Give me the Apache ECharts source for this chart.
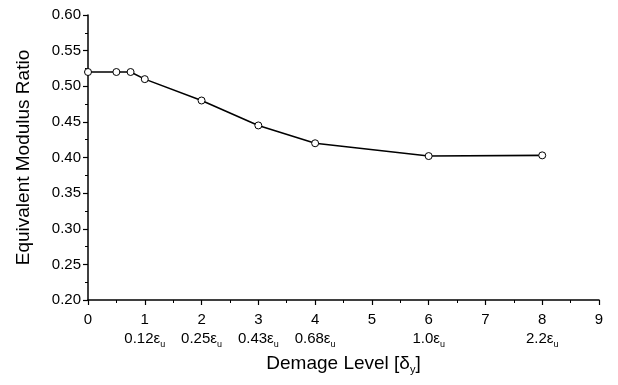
<!DOCTYPE html>
<html><head><meta charset="utf-8">
<script src="https://cdn.jsdelivr.net/npm/echarts@6/dist/echarts.min.js"></script>
<style>html,body{margin:0;padding:0;background:#fff}#c{width:618px;height:385px}</style>
</head><body><div id="c"></div>
<script>
const damageLevel = [0, 0.5, 0.75, 1, 2, 3, 4, 6, 8];
const modulusRatio = [0.52, 0.52, 0.52, 0.51, 0.48, 0.445, 0.42, 0.402, 0.403];
const strainTickPositions = [1, 2, 3, 4, 6, 8];
const strainTickLabels = ['0.12', '0.25', '0.43', '0.68', '1.0', '2.2'];

const font = 'Liberation Sans, Arial, sans-serif';
const chart = echarts.init(document.getElementById('c'));
chart.setOption({
  animation: false,
  grid: { left: 88, right: 19, top: 15, bottom: 85 },
  xAxis: {
    type: 'value', min: 0, max: 9, interval: 1,
    name: '{t|Demage Level [δ}{sub|y}{t|]}',
    nameLocation: 'middle', nameGap: 52,
    nameTextStyle: { rich: { t: { fontFamily: font, fontSize: 19, color: '#000' }, sub: { fontFamily: font, fontSize: 11, color: '#000', padding: [12, 0, 0, 0] } } },
    axisLine: { lineStyle: { color: '#000', width: 1.5 } },
    axisTick: { inside: false, length: 5, lineStyle: { color: '#000', width: 1.2 } },
    minorTick: { show: true, splitNumber: 2, length: 3, lineStyle: { color: '#000' } },
    splitLine: { show: false },
    axisLabel: {
      margin: 10, color: '#000', fontFamily: font, fontSize: 15, lineHeight: 19,
      formatter: function (v) {
        const i = strainTickPositions.indexOf(v);
        if (i < 0) return '{n|' + v + '}\n{s| }';
        return '{n|' + v + '}\n{s|' + strainTickLabels[i] + 'ε}{u|u}';
      },
      rich: {
        n: { fontFamily: font, fontSize: 15, color: '#000', lineHeight: 19 },
        s: { fontFamily: font, fontSize: 15, color: '#000', lineHeight: 19 },
        u: { fontFamily: font, fontSize: 9, color: '#000', padding: [12, 0, 0, 0] }
      }
    }
  },
  yAxis: {
    type: 'value', min: 0.2, max: 0.6, interval: 0.05,
    name: 'Equivalent Modulus Ratio', nameLocation: 'middle', nameGap: 55,
    nameTextStyle: { fontFamily: font, fontSize: 19, color: '#000' },
    axisLine: { show: true, lineStyle: { color: '#000', width: 1.5 } },
    axisTick: { show: true, inside: false, length: 5, lineStyle: { color: '#000', width: 1.2 } },
    minorTick: { show: true, splitNumber: 2, length: 3, lineStyle: { color: '#000' } },
    splitLine: { show: false },
    axisLabel: { color: '#000', fontFamily: font, fontSize: 15, margin: 7, formatter: v => v.toFixed(2) }
  },
  series: [{
    type: 'line',
    data: damageLevel.map((x, i) => [x, modulusRatio[i]]),
    symbol: 'circle', symbolSize: 7,
    lineStyle: { color: '#000', width: 1.6 },
    itemStyle: { color: '#fff', borderColor: '#000', borderWidth: 1 },
    z: 5
  }]
});
</script></body></html>
